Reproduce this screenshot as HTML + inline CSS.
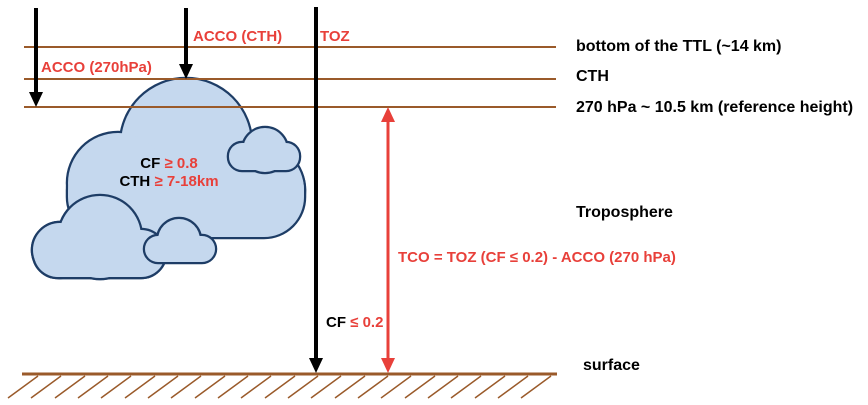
<!DOCTYPE html>
<html><head><style>
body{margin:0;background:#fff;}
svg{display:block;}
text{font-family:"Liberation Sans",sans-serif;font-weight:bold;font-size:15px;}
</style></head><body>
<svg width="868" height="405" viewBox="0 0 868 405">
<g stroke="#1e3d66" stroke-width="4.5" fill="#1e3d66">
<circle cx="186" cy="144" r="65"/>
<circle cx="118" cy="183" r="50"/>
<circle cx="258" cy="190" r="46"/>
<rect x="68" y="150" width="236" height="87" rx="40"/>
<circle cx="100" cy="237" r="41"/>
<circle cx="60" cy="250" r="27"/>
<rect x="34" y="230" width="131" height="47" rx="24"/>
</g>
<g fill="#c5d8ee">
<circle cx="186" cy="144" r="65"/>
<circle cx="118" cy="183" r="50"/>
<circle cx="258" cy="190" r="46"/>
<rect x="68" y="150" width="236" height="87" rx="40"/>
</g>
<g stroke="#1e3d66" stroke-width="4.5" fill="#1e3d66">
<circle cx="100" cy="237" r="41"/>
<circle cx="60" cy="250" r="27"/>
<rect x="34" y="230" width="131" height="47" rx="24"/>
</g>
<g fill="#c5d8ee">
<circle cx="100" cy="237" r="41"/>
<circle cx="60" cy="250" r="27"/>
<rect x="34" y="230" width="131" height="47" rx="24"/>
</g>
<g stroke="#1e3d66" stroke-width="4.5" fill="#1e3d66">
<circle cx="265" cy="150" r="22"/>
<rect x="229" y="143" width="70" height="27" rx="13"/>
<circle cx="179" cy="240" r="21"/>
<rect x="145" y="236" width="70" height="26" rx="13"/>
</g>
<g fill="#c5d8ee">
<circle cx="265" cy="150" r="22"/>
<rect x="229" y="143" width="70" height="27" rx="13"/>
<circle cx="179" cy="240" r="21"/>
<rect x="145" y="236" width="70" height="26" rx="13"/>
</g>
<g stroke="#9a5a2a" stroke-width="2">
<line x1="24" y1="47" x2="556" y2="47"/>
<line x1="24" y1="79" x2="556" y2="79"/>
<line x1="24" y1="107" x2="556" y2="107"/>
</g>
<line x1="22" y1="374" x2="557" y2="374" stroke="#9a5a2a" stroke-width="3"/>
<g stroke="#9a5a2a" stroke-width="1.5">
<path d="M8 398L38 376M31 398L61 376M55 398L85 376M78 398L108 376M101 398L131 376M125 398L155 376M148 398L178 376M171 398L201 376M195 398L225 376M218 398L248 376M241 398L271 376M265 398L295 376M288 398L318 376M311 398L341 376M335 398L365 376M358 398L388 376M381 398L411 376M405 398L435 376M428 398L458 376M451 398L481 376M475 398L505 376M498 398L528 376M521 398L551 376"/>
</g>
<g stroke="#000" stroke-width="4">
<line x1="36" y1="8" x2="36" y2="94"/>
<line x1="186" y1="8" x2="186" y2="66"/>
<line x1="316" y1="7" x2="316" y2="360"/>
</g>
<g fill="#000">
<path d="M29 92L43 92L36 107Z"/>
<path d="M179 64L193 64L186 79Z"/>
<path d="M309 358L323 358L316 373Z"/>
</g>
<line x1="388" y1="120" x2="388" y2="360" stroke="#e8403a" stroke-width="3"/>
<g fill="#e8403a">
<path d="M381 122L395 122L388 107Z"/>
<path d="M381 358L395 358L388 373Z"/>
</g>
<g fill="#e8403a">
<text x="193" y="41">ACCO (CTH)</text>
<text x="320" y="41">TOZ</text>
<text x="41" y="72">ACCO (270hPa)</text>
<text x="398" y="262">TCO = TOZ (CF ≤ 0.2) - ACCO (270 hPa)</text>
</g>
<text x="326" y="327" fill="#000">CF <tspan fill="#e8403a">≤ 0.2</tspan></text>
<text x="169" y="168" text-anchor="middle" fill="#000">CF <tspan fill="#e8403a">≥ 0.8</tspan></text>
<text x="169" y="186" text-anchor="middle" fill="#000">CTH <tspan fill="#e8403a">≥ 7-18km</tspan></text>
<g fill="#000">
<text x="576" y="51" style="font-size:16px">bottom of the TTL (~14 km)</text>
<text x="576" y="81" style="font-size:16px">CTH</text>
<text x="576" y="112" style="font-size:16px">270 hPa ~ 10.5 km (reference height)</text>
<text x="576" y="217" style="font-size:16px">Troposphere</text>
<text x="583" y="370" style="font-size:16px">surface</text>
</g>
</svg>
</body></html>
